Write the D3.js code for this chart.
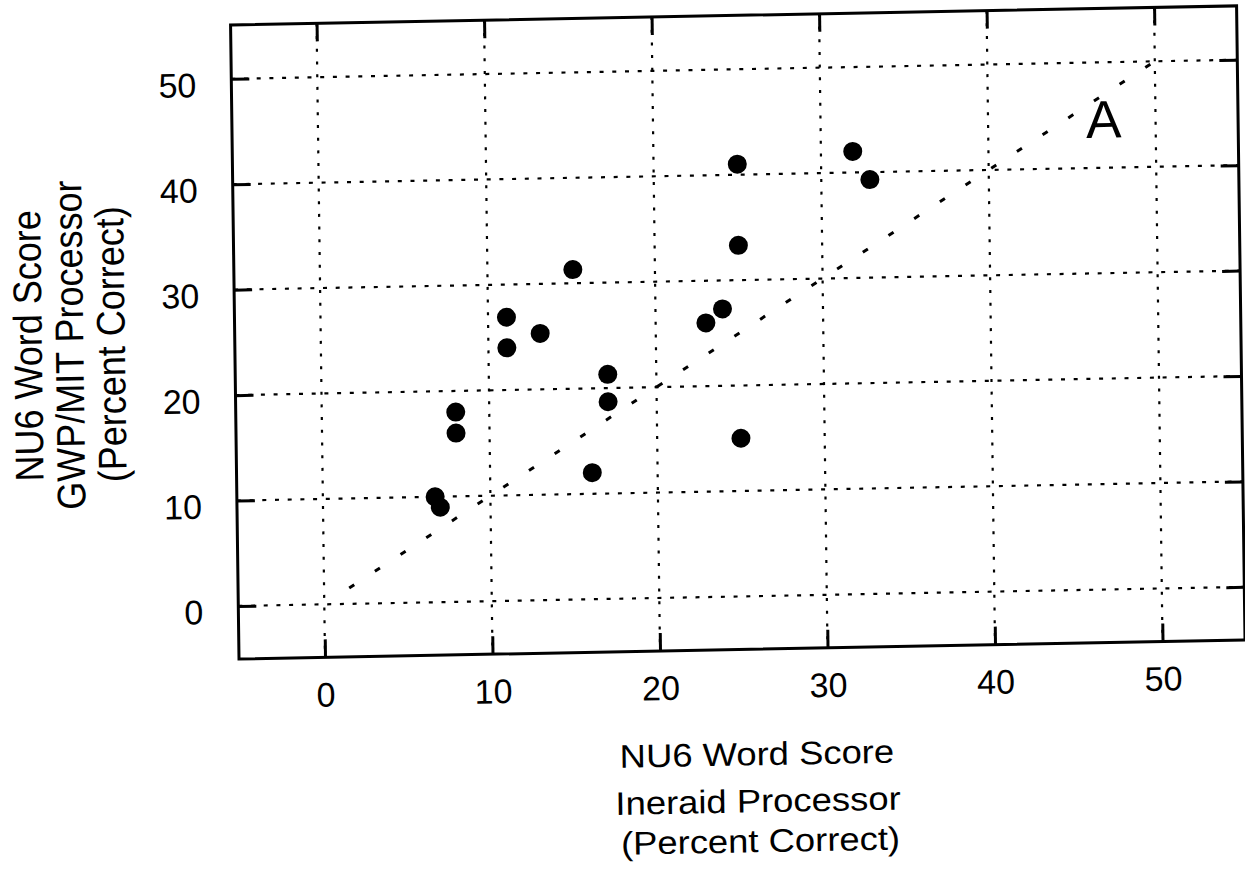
<!DOCTYPE html>
<html>
<head>
<meta charset="utf-8">
<script src="https://cdn.jsdelivr.net/npm/d3@7"></script>
<style>
body { margin: 0; background: #fff; }
svg text { font-family: "Liberation Sans", Arial, sans-serif; fill: #000; }
</style>
</head>
<body>
<div id="chart-section"></div>
<script>

// NU6 word scores (percent correct), one entry per subject
var ineraid = [25, 25, 15.1, 11.1, 13.1, 11.1, 24, 23, 17.1, 17.1, 8, 8, 25, 16.1, 6.7, 7, 31.9, 32.9];
var gwpMit  = [41, 33.3, 31.3, 26.9, 25.3, 24, 27.3, 26, 21.3, 18.7, 18, 16, 15, 12, 10, 9, 42, 39.3];
var tickValues = [0, 10, 20, 30, 40, 50];
var equalityLine = [1.5, 50];   // y = x reference, from / to
var xTitle = ["NU6 Word Score", "Ineraid Processor", "(Percent Correct)"];
var yTitle = ["NU6 Word Score", "GWP/MIT Processor", "(Percent Correct)"];
var panelLabel = "A";

var dataset = ineraid.map((d, i) => ({x: d, y: gwpMit[i]}));

var margin = {top: 25, left: 239},
        width = 1006,
        height = 634;

var svg = d3.select("#chart-section")
        .append("svg")
        .attr("width", 1245)
        .attr("height", 869);

// the scan is a little skewed, so the whole page gets a small shear
var page = svg.append("g")
        .attr("transform", "matrix(1,-0.019,0.0133,1,-8.76,4.54)");

var chart = page.append("g")
        .attr("transform", "translate(" + margin.left + "," + margin.top + ")");

var xscale = d3.scaleLinear()
        .domain([-5.134, 54.925])
        .range([0, width]);

var yscale = d3.scaleLinear()
        .domain([-5.03, 55.11])
        .range([height, 0]);

// dotted grid
chart.selectAll(".vgrid")
        .data(tickValues)
        .enter()
        .append("line")
        .attr("x1", d => xscale(d))
        .attr("x2", d => xscale(d))
        .attr("y1", 0)
        .attr("y2", height)
        .attr("stroke", "#000")
        .attr("stroke-width", 2.2)
        .attr("stroke-dasharray", "3,9.7");

chart.selectAll(".hgrid")
        .data(tickValues)
        .enter()
        .append("line")
        .attr("x1", 0)
        .attr("x2", width)
        .attr("y1", d => yscale(d))
        .attr("y2", d => yscale(d))
        .attr("stroke", "#000")
        .attr("stroke-width", 2.2)
        .attr("stroke-dasharray", "4,8.7");

// y = x line
chart.append("line")
        .attr("x1", xscale(equalityLine[0]))
        .attr("y1", yscale(equalityLine[0]))
        .attr("x2", xscale(equalityLine[1]))
        .attr("y2", yscale(equalityLine[1]))
        .attr("stroke", "#000")
        .attr("stroke-width", 3)
        .attr("stroke-dasharray", "6,24.6");

// axes, ticks pointing inwards on all four sides
var bottomAxis = chart.append("g")
        .attr("transform", "translate(0," + height + ")")
        .call(d3.axisBottom(xscale).tickValues(tickValues).tickSize(-18).tickPadding(25));

var leftAxis = chart.append("g")
        .call(d3.axisLeft(yscale).tickValues(tickValues).tickSize(-18).tickPadding(35));

var topAxis = chart.append("g")
        .call(d3.axisTop(xscale).tickValues(tickValues).tickSize(-18).tickFormat(""));

var rightAxis = chart.append("g")
        .attr("transform", "translate(" + width + ",0)")
        .call(d3.axisRight(yscale).tickValues(tickValues).tickSize(-18).tickFormat(""));

[bottomAxis, leftAxis, topAxis, rightAxis].forEach(ax => {
    ax.select(".domain").remove();
    ax.attr("font-size", 34).attr("font-family", "Liberation Sans, Arial, sans-serif");
    ax.selectAll(".tick line").attr("stroke", "#000").attr("stroke-width", 3);
    ax.selectAll(".tick text").attr("fill", "#000");
});
leftAxis.selectAll(".tick text").attr("dy", "0.5em");

// frame
chart.append("rect")
        .attr("x", 0)
        .attr("y", 0)
        .attr("width", width)
        .attr("height", height)
        .attr("fill", "none")
        .attr("stroke", "#000")
        .attr("stroke-width", 3);

// points
chart.selectAll("circle")
        .data(dataset)
        .enter()
        .append("circle")
        .attr("cx", d => xscale(d.x))
        .attr("cy", d => yscale(d.y))
        .attr("r", 9.5)
        .attr("fill", "#000");

// panel letter
chart.append("text")
        .text(panelLabel)
        .attr("x", xscale(46.9))
        .attr("y", yscale(42.85))
        .attr("text-anchor", "middle")
        .attr("font-size", 53);

// x title
var xTitleY = [height + 116, height + 163, height + 203];
var xTitleX = [516.5, 517, 519];
chart.selectAll(".xtitle")
        .data(xTitle)
        .enter()
        .append("text")
        .text(d => d)
        .attr("text-anchor", "middle")
        .attr("font-size", 32.5)
        .attr("transform", (d, i) => "translate(" + xTitleX[i] + "," + xTitleY[i] + ") scale(1.12,1)");

// y title
var yTitleX = [-193, -151.5, -110];
chart.selectAll(".ytitle")
        .data(yTitle)
        .enter()
        .append("text")
        .text(d => d)
        .attr("text-anchor", "middle")
        .attr("font-size", 36)
        .attr("transform", (d, i) => "translate(" + yTitleX[i] + "," + (height / 2) + ") scale(1.11,1) rotate(-90)");

</script>
</body>
</html>
